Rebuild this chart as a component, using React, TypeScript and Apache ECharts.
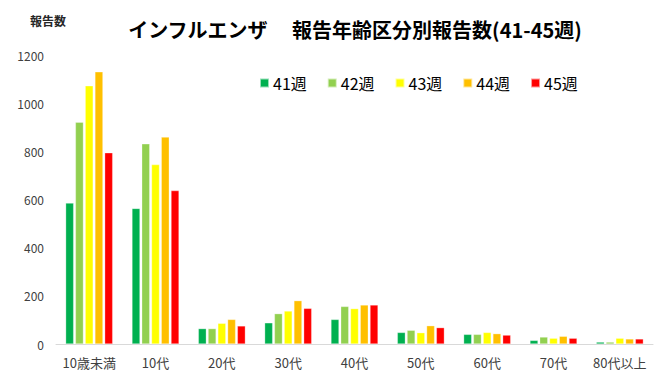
import React, { useEffect, useRef } from "react";
import * as echarts from "echarts";

const categories = ["10歳未満", "10代", "20代", "30代", "40代", "50代", "60代", "70代", "80代以上"];
const seriesNames = ["41週", "42週", "43週", "44週", "45週"];
const w41 = [585, 563, 64, 88, 102, 48, 40, 15, 8];
const w42 = [921, 831, 64, 126, 156, 57, 40, 29, 8];
const w43 = [1072, 745, 86, 137, 147, 47, 48, 24, 24];
const w44 = [1130, 859, 102, 180, 162, 76, 43, 32, 21];
const w45 = [794, 637, 75, 148, 162, 68, 37, 24, 21];
const colors = ["#00B050", "#92D050", "#FFFF00", "#FFC000", "#FF0000"];
const yTicks = { min: 0, max: 1200, interval: 200 };

const FONT = "'Noto Sans CJK JP', 'Noto Sans', sans-serif";

export default function App() {
  const ref = useRef<HTMLDivElement>(null);
  useEffect(() => {
    if (!ref.current) return;
    const chart = echarts.init(ref.current, undefined, { renderer: "svg" });
    const data = [w41, w42, w43, w44, w45];
    chart.setOption({
      animation: false,
      backgroundColor: "#ffffff",
      title: [
        {
          text: "インフルエンザ　 報告年齢区分別報告数(41-45週)",
          left: 350,
          top: 14,
          textAlign: "center",
          textStyle: { fontFamily: FONT, fontSize: 20, fontWeight: "bold", color: "#000000" },
        },
        {
          text: "報告数",
          left: 25,
          top: 9,
          textStyle: { fontFamily: FONT, fontSize: 12, fontWeight: "bold", color: "#262626" },
        },
      ],
      legend: {
        data: seriesNames,
        left: 254,
        top: 70,
        itemWidth: 9,
        itemHeight: 9,
        itemGap: 20,
        icon: "rect",
        textStyle: { fontFamily: FONT, fontSize: 16, color: "#000000", padding: [0, 0, 0, -1] },
      },
      grid: { left: 56, right: 5, top: 55, bottom: 38, containLabel: false },
      xAxis: {
        type: "category",
        data: categories,
        axisLine: { show: true, lineStyle: { color: "#D9D9D9", width: 1 } },
        axisTick: { show: false },
        axisLabel: { fontFamily: FONT, fontSize: 13, color: "#404040", margin: 12, interval: 0 },
      },
      yAxis: {
        type: "value",
        min: yTicks.min,
        max: yTicks.max,
        interval: yTicks.interval,
        splitLine: { show: false },
        axisLine: { show: false },
        axisTick: { show: false },
        axisLabel: {
          fontFamily: FONT,
          fontSize: 12,
          color: "#404040",
          margin: 12,
          formatter: (v: number) => String(v),
        },
      },
      series: seriesNames.map((name, i) => ({
        name,
        type: "bar",
        data: data[i],
        barWidth: 8,
        barGap: "22%",
        itemStyle: { color: colors[i], borderColor: "rgba(255,255,255,0.6)", borderWidth: 0.5 },
      })),
    });
    return () => chart.dispose();
  }, []);
  return <div ref={ref} style={{ width: 658, height: 382, position: "absolute", left: 0, top: 0 }} />;
}
